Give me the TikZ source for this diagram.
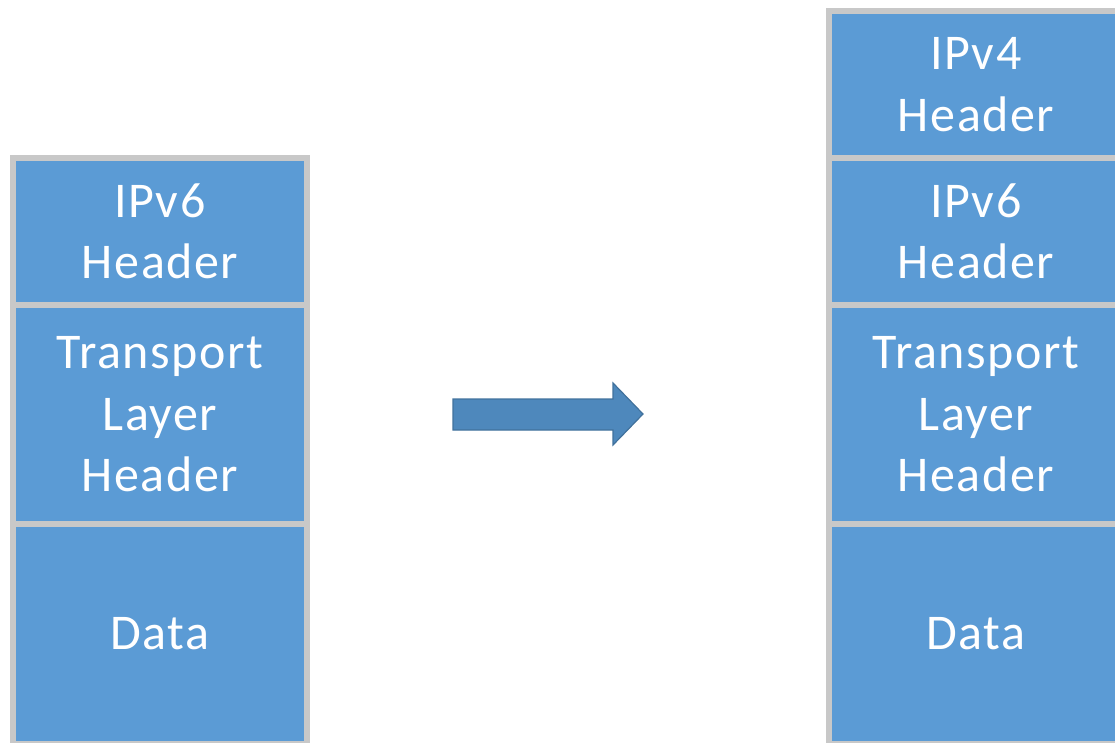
\documentclass[tikz,border=0pt]{standalone}
\usepackage{fontspec}
\setmainfont{Carlito}[LetterSpace=3]
\definecolor{boxblue}{HTML}{5B9BD5}
\definecolor{boxgray}{HTML}{C8C8C8}
\definecolor{arrowfill}{HTML}{4E88BC}
\definecolor{arrowline}{HTML}{41719C}
\begin{document}
\begin{tikzpicture}[x=1pt,y=-1pt,
  layerbox/.style={draw=boxgray, line width=6pt, fill=boxblue, text=white,
    align=center, minimum width=294pt, inner sep=0pt,
    font=\fontsize{50}{61.5}\selectfont},
  hdr/.style={layerbox, minimum height=146.5pt},
  tport/.style={layerbox, minimum height=219.5pt},
  payload/.style={layerbox, minimum height=220pt},
]
\useasboundingbox (0,0) rectangle (1115,743);
\clip (0,0) rectangle (1115,743);

% original IPv6 packet
\node[hdr]     (l6)   at (160,231.25) {IPv6\\Header};
\node[tport]   (ltp)  at (160,414.25) {Transport\\Layer\\Header};
\node[payload] (ldat) at (160,634)    {Data};

% encapsulated packet with an outer IPv4 header
\node[hdr]     (r4)   at (976,84.5)   {IPv4\\Header};
\node[hdr]     (r6)   at (976,231.25) {IPv6\\Header};
\node[tport]   (rtp)  at (976,414.25) {Transport\\Layer\\Header};
\node[payload] (rdat) at (976,634)    {Data};

% block arrow between the two packets
\filldraw[fill=arrowfill, draw=arrowline, line width=1.2pt, line join=miter]
  (453,399) -- (613,399) -- (613,383) -- (643,414) -- (613,445)
  -- (613,430) -- (453,430) -- cycle;
\end{tikzpicture}
\end{document}
